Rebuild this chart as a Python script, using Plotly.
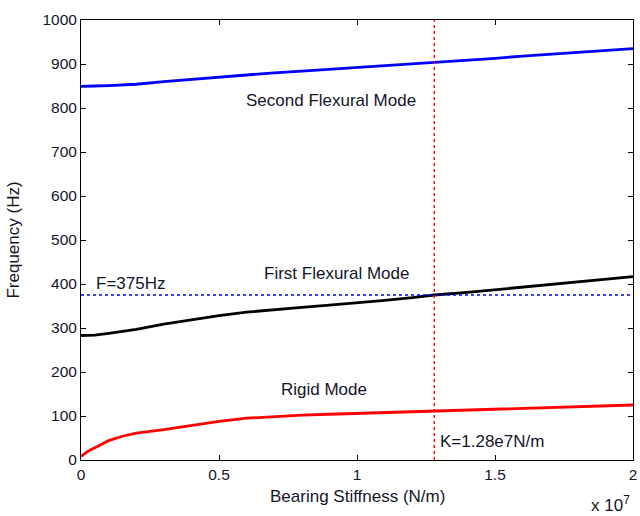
import plotly.graph_objects as go

# Bearing stiffness sweep (N/m) and natural frequencies (Hz) of each mode
stiffness = [0, 0.25e6, 0.5e6, 1e6, 1.5e6, 2e6, 3e6, 4e6, 5e6, 6e6, 7e6, 8e6,
             9e6, 10e6, 11e6, 12e6, 12.8e6, 14e6, 15e6, 16e6, 17e6, 18e6, 19e6, 20e6]
rigid_mode = [8, 20, 28, 44, 54, 61, 69, 78, 88, 95, 99, 102,
              104, 106, 108, 110, 112, 114, 116, 118, 120, 122, 123, 125]
first_flexural = [283, 283, 284, 288, 293, 297, 309, 319, 328, 336, 342, 347,
                  352, 357, 363, 369, 375, 381, 387, 393, 399, 405, 411, 417]
second_flexural = [849, 849, 850, 851, 852, 854, 860, 865, 871, 876, 880, 884,
                   888, 892, 896, 900, 904, 909, 913, 918, 922, 926, 930, 935]

operating_freq = 375        # Hz
design_stiffness = 1.28e7   # N/m

x_ticks = [0, 0.5e7, 1e7, 1.5e7, 2e7]
x_tick_text = ["0", "0.5", "1", "1.5", "2"]
y_ticks = [0, 100, 200, 300, 400, 500, 600, 700, 800, 900, 1000]

FONT = "Liberation Sans, Arial, sans-serif"
TEXT_COLOR = "#15152a"

fig = go.Figure()
for vals, color in [(second_flexural, "#0000ff"), (first_flexural, "#000000"), (rigid_mode, "#ff0000")]:
    fig.add_trace(go.Scatter(x=stiffness, y=vals, mode="lines",
                             line=dict(color=color, width=2.8), showlegend=False))

# Reference lines: operating frequency and chosen stiffness
fig.add_trace(go.Scatter(x=[0, 2e7], y=[operating_freq, operating_freq], mode="lines",
                         line=dict(color="#0000ff", width=1.4, dash="3px,3px"), showlegend=False))
fig.add_trace(go.Scatter(x=[design_stiffness, design_stiffness], y=[0, 1000], mode="lines",
                         line=dict(color="#ff0000", width=1.4, dash="3px,3px"), showlegend=False))

axis_common = dict(showline=True, linecolor="black", linewidth=1, mirror="ticks",
                   ticks="inside", ticklen=5, tickcolor="black", showgrid=False, zeroline=False,
                   ticklabeloverflow="allow",
                   tickfont=dict(family=FONT, size=15.5, color=TEXT_COLOR))

fig.update_xaxes(range=[0, 2e7], tickvals=x_ticks, ticktext=x_tick_text, **axis_common)
fig.update_yaxes(range=[0, 1000], tickvals=y_ticks, **axis_common)

label_font = dict(family=FONT, size=17, color=TEXT_COLOR)
annotations = [
    dict(x=9.06e6, y=818, text="Second Flexural Mode"),
    dict(x=9.24e6, y=423, text="First Flexural Mode"),
    dict(x=8.8e6, y=161, text="Rigid Mode"),
    dict(x=1.8e6, y=402, text="F=375Hz"),
    dict(x=design_stiffness + 0.12e6, y=41, text="K=1.28e7N/m", xanchor="left"),
]
for a in annotations:
    fig.add_annotation(x=a["x"], y=a["y"], text=a["text"], showarrow=False,
                       xanchor=a.get("xanchor", "center"), yanchor="middle", font=label_font)

# Axis titles and the x-axis exponent
fig.add_annotation(xref="paper", yref="paper", x=0.5, y=-0.082, yanchor="middle",
                   text="Bearing Stiffness (N/m)", showarrow=False, font=label_font)
fig.add_annotation(xref="paper", yref="paper", x=-0.124, y=0.5, xanchor="center", textangle=-90,
                   text="Frequency (Hz)", showarrow=False, font=label_font)
fig.add_annotation(xref="paper", yref="paper", x=0.998, y=-0.101, xanchor="right", yanchor="middle",
                   text="x 10<sup>7</sup>", showarrow=False, font=label_font)

fig.update_layout(width=640, height=516, margin=dict(l=81, r=3, t=20, b=56),
                  plot_bgcolor="white", paper_bgcolor="white")

fig.write_html("out.html")
